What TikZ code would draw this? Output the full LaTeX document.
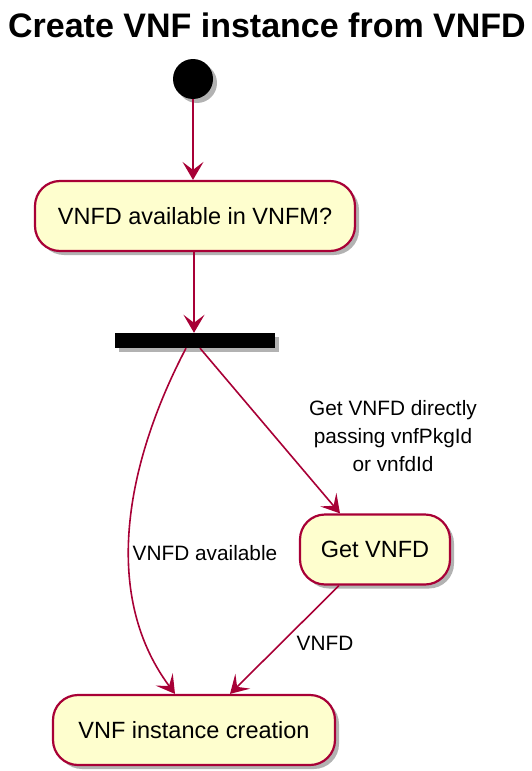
\documentclass[tikz,border=0pt]{standalone}
\usepackage{fontspec}
\setmainfont{Liberation Sans}
\usetikzlibrary{arrows.meta,shadows}
\definecolor{umlred}{HTML}{A80036}
\definecolor{umlfill}{HTML}{FEFECE}

\begin{document}
\begin{tikzpicture}[x=1pt,y=-1pt,
		shade/.style={drop shadow={shadow xshift=4pt,shadow yshift=-4pt,fill=black,opacity=0.3}},
		activity/.style={draw=umlred,fill=umlfill,line width=2.2pt,rounded corners=25pt,
			inner sep=0pt,minimum height=70pt,font=\fontsize{23.5}{27}\selectfont,shade},
		flow/.style={draw=umlred,line width=1.6pt,-{Stealth[length=18pt,width=21pt,inset=8pt]}},
		guard/.style={font=\fontsize{20.8}{28}\selectfont,align=center}
	]
	\useasboundingbox (0,0) rectangle (532,771);
	\node[anchor=base,font=\bfseries\fontsize{34}{38}\selectfont] (title) at (267,37) {Create VNF instance from VNFD};
	\node[circle,fill=black,minimum size=40pt,inner sep=0pt,shade] (start) at (193,79) {};
	\node[activity,minimum width=320pt] (ask) at (195,216) {VNFD available in VNFM?};
	\node[fill=black,minimum width=160pt,minimum height=15pt,inner sep=0pt,shade] (fork) at (195,340.5) {};
	\node[activity,minimum width=150pt] (get) at (375,549.5) {Get VNFD};
	\node[activity,minimum width=282pt] (create) at (194,730) {VNF instance creation};
	% connectors
	\draw[flow] (start.south -| 193,0) -- (ask.north -| 193,0);
	\draw[flow] (ask.south -| 194,0) -- (fork.north -| 194,0);
	\draw[flow] (fork.south -| 186,0) .. controls (130,455) and (98,590) .. (create.north -| 175,0);
	\draw[flow] (fork.south -| 200,0) -- (get.north -| 340,0);
	\draw[flow] (get.south -| 339,0) -- (create.north -| 230,0);
	% guards
	\node[guard] (direct) at (393,436) {Get VNFD directly\\passing vnfPkgId\\or vnfdId};
	\node[guard] (avail) at (205,553) {VNFD available};
	\node[guard] (result) at (325,643) {VNFD};
\end{tikzpicture}
\end{document}
